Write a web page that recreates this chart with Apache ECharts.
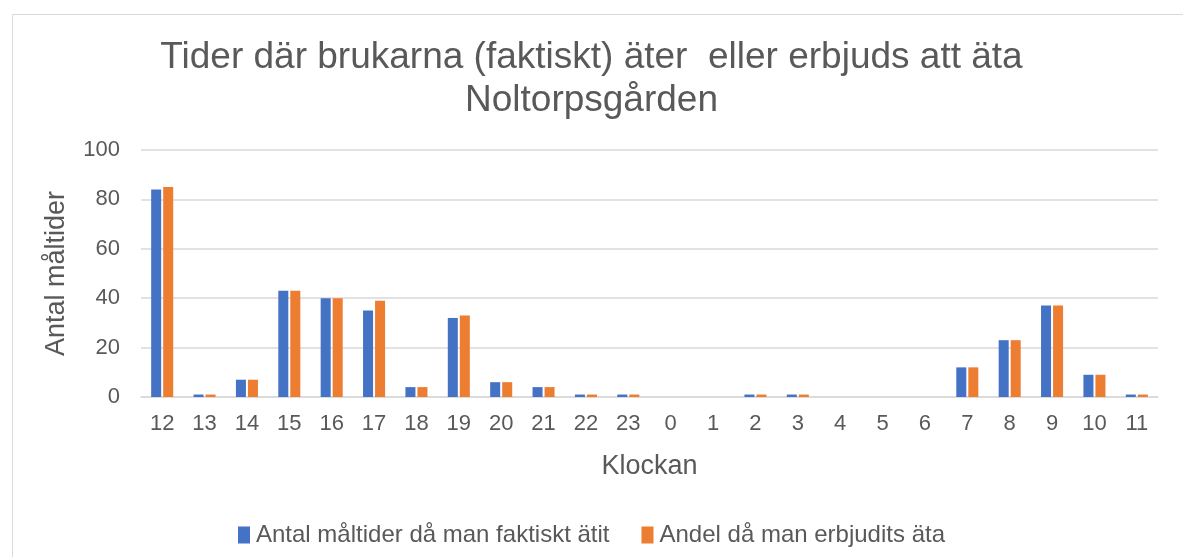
<!DOCTYPE html>
<html><head><meta charset="utf-8">
<script src="https://cdn.jsdelivr.net/npm/echarts@6/dist/echarts.min.js"></script>
<style>html,body{margin:0;padding:0;background:#fff}#c{width:1183px;height:557px}</style>
</head><body><div id="c"></div>
<script>
const categories = ['12','13','14','15','16','17','18','19','20','21','22','23','0','1','2','3','4','5','6','7','8','9','10','11'];
const eaten = [84,1,7,43,40,35,4,32,6,4,1,1,0,0,1,1,0,0,0,12,23,37,9,1];
const offered = [85,1,7,43,40,39,4,33,6,4,1,1,0,0,1,1,0,0,0,12,23,37,9,1];
const seriesNames = ['Antal måltider då man faktiskt ätit','Andel då man erbjudits äta'];
const titleText = 'Tider där brukarna (faktiskt) äter  eller erbjuds att äta\nNoltorpsgården';
const txt = '#595959';
const font = '"Liberation Sans", Arial, sans-serif';
const chart = echarts.init(document.getElementById('c'), null, {renderer:'canvas'});
chart.setOption({
  animation:false,
  textStyle:{fontFamily:font},
  graphic:[{type:'rect',left:10,top:12,shape:{width:1200,height:600},style:{fill:'none',stroke:'#d9d9d9',lineWidth:1},silent:true}],
  title:{text:titleText,left:'center',top:31,
    textStyle:{fontFamily:font,fontSize:37,fontWeight:'normal',color:txt,lineHeight:43,align:'center'}},
  legend:{top:518,left:'center',itemWidth:12,itemHeight:17,itemGap:32,icon:'rect',
    textStyle:{fontFamily:font,fontSize:24,color:txt,padding:[0,0,0,1]},data:seriesNames},
  grid:{left:141,right:25,top:150,bottom:160,containLabel:false},
  xAxis:{type:'category',data:categories,name:'Klockan',nameLocation:'middle',nameGap:56,
    nameTextStyle:{fontFamily:font,fontSize:27,color:txt},
    axisLine:{lineStyle:{color:'#d9d9d9',width:1.5}},axisTick:{show:false},
    axisLabel:{fontFamily:font,fontSize:22,color:txt,margin:16}},
  yAxis:{type:'value',min:0,max:100,interval:20,name:'Antal måltider',nameLocation:'middle',nameGap:71,
    nameTextStyle:{fontFamily:font,fontSize:27,color:txt},
    axisLine:{show:false},axisTick:{show:false},
    axisLabel:{fontFamily:font,fontSize:22,color:txt,margin:21},
    splitLine:{lineStyle:{color:'#d9d9d9',width:1.5}}},
  series:[
    {name:seriesNames[0],type:'bar',data:eaten,itemStyle:{color:'#4472c4'},barGap:'20%',barCategoryGap:'48%'},
    {name:seriesNames[1],type:'bar',data:offered,itemStyle:{color:'#ed7d31'},barGap:'20%',barCategoryGap:'48%'}
  ]
});
</script></body></html>
